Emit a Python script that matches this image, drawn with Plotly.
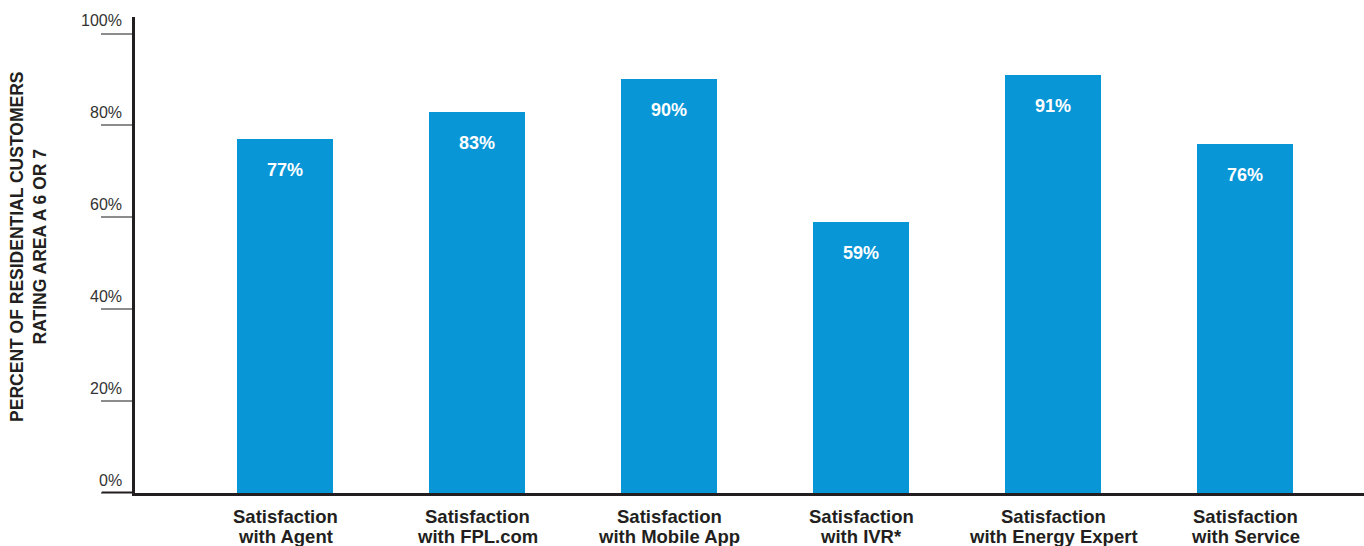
import plotly.graph_objects as go

# Share of residential customers rating each channel a 6 or 7
categories = [
    "Satisfaction<br>with Agent",
    "Satisfaction<br>with FPL.com",
    "Satisfaction<br>with Mobile App",
    "Satisfaction<br>with IVR*",
    "Satisfaction<br>with Energy Expert",
    "Satisfaction<br>with Service",
]
values = [0.77, 0.83, 0.90, 0.59, 0.91, 0.76]
y_ticks = [0, 0.2, 0.4, 0.6, 0.8, 1.0]
y_tick_labels = ["0%", "20%", "40%", "60%", "80%", "100%"]
y_title = "PERCENT OF RESIDENTIAL CUSTOMERS<br>RATING AREA A 6 OR 7"

FONT = "Liberation Sans, Arial, Helvetica, sans-serif"
BAR = "#0996d7"
DARK = "#231f20"
GRID = "#8c8c8c"

x_pos = list(range(len(categories)))

fig = go.Figure(
    go.Bar(
        x=x_pos,
        y=values,
        width=0.5,
        marker=dict(color=BAR, line=dict(width=0)),
        hoverinfo="skip",
    )
)

annotations = []
# value labels inside the top of each bar
for xi, v in zip(x_pos, values):
    annotations.append(dict(
        x=xi, y=v, xref="x", yref="y", yshift=-31,
        text=f"{round(v * 100)}%", showarrow=False,
        xanchor="center", yanchor="middle",
        font=dict(family=FONT, size=18, color="white", weight="bold"),
    ))
# category labels under the axis, one annotation per line for tight leading
for xi, cat in zip(x_pos, categories):
    for k, line in enumerate(cat.split("<br>")):
        annotations.append(dict(
            x=xi, y=0, xref="x", yref="paper", yshift=-23 - 20.5 * k,
            text=line, showarrow=False, xanchor="center", yanchor="middle",
            font=dict(family=FONT, size=18.5, color=DARK, weight="bold"),
        ))
# y tick labels sit above their tick lines
for t, lab in zip(y_ticks, y_tick_labels):
    annotations.append(dict(
        x=0, y=t, xref="paper", yref="y", xshift=-11, yshift=13,
        text=lab, showarrow=False, xanchor="right", yanchor="middle",
        font=dict(family=FONT, size=16, color="#333333"),
    ))
# rotated axis title
annotations.append(dict(
    x=0, y=0.517, xref="paper", yref="paper", xshift=-106,
    text=y_title, showarrow=False, textangle=-90,
    xanchor="center", yanchor="middle",
    font=dict(family=FONT, size=17.5, color=DARK, weight="bold"),
))

fig.update_layout(
    width=1364, height=546,
    margin=dict(l=135, r=0, t=17, b=53),
    paper_bgcolor="white", plot_bgcolor="white",
    showlegend=False,
    bargap=0,
    annotations=annotations,
    shapes=[
        # dark extension of the baseline to the left of the y axis
        dict(type="line", xref="paper", yref="y", x0=-0.027, x1=0, y0=0, y1=0,
             line=dict(color=DARK, width=3)),
    ],
    xaxis=dict(
        range=[-0.78125, 5.6198],
        tickmode="array", tickvals=x_pos, showticklabels=False,
        showline=True, linecolor=DARK, linewidth=3,
        ticks="", showgrid=False, zeroline=False, automargin=False,
        fixedrange=True,
    ),
    yaxis=dict(
        range=[0, 1.036],
        tickmode="array", tickvals=y_ticks, showticklabels=False,
        ticks="outside", ticklen=31, tickwidth=1.5, tickcolor=GRID,
        showline=True, linecolor=DARK, linewidth=3,
        showgrid=False, zeroline=False, fixedrange=True, automargin=False,
    ),
)

fig.write_html("out.html")
